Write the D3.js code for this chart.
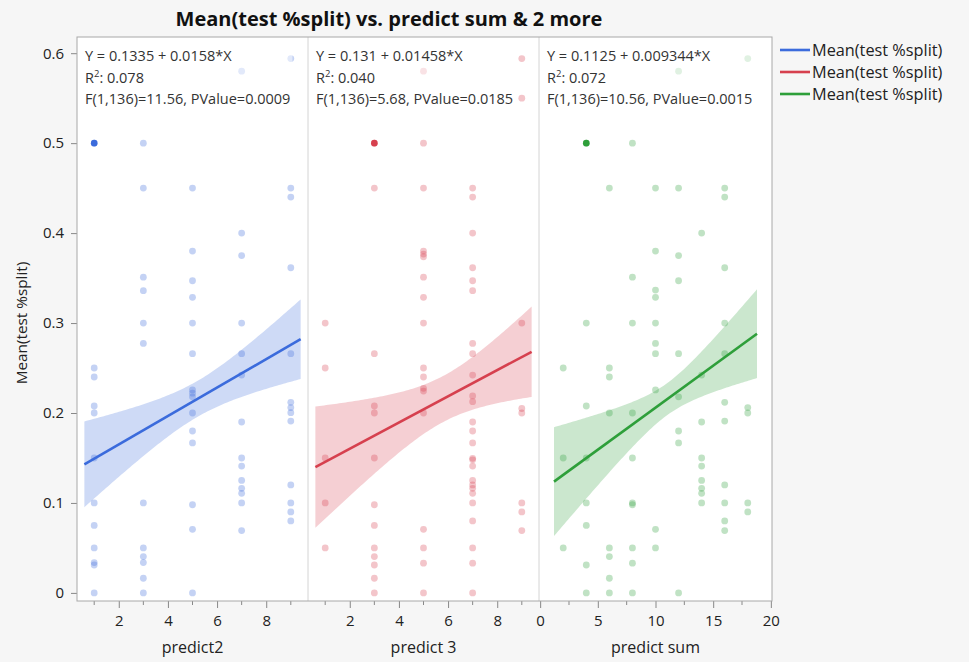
<!DOCTYPE html>
<html><head><meta charset="utf-8">
<script src="https://cdn.jsdelivr.net/npm/d3@7"></script>
<style>
body{margin:0;background:#f6f6f6;}
text{font-family:"Open Sans","Noto Sans",sans-serif;}
</style>
</head><body>
<svg id="chart" width="969" height="662"></svg>
<script>
// ---------------- DATA ----------------
const chartTitle = "Mean(test %split) vs. predict sum & 2 more";
const yTitle = "Mean(test %split)";
const panelNames = ["predict2", "predict 3", "predict sum"];
const legendLabels = ["Mean(test %split)", "Mean(test %split)", "Mean(test %split)"];
const yTicks = [0, 0.1, 0.2, 0.3, 0.4, 0.5, 0.6];
const xMajorTicks = [[2, 4, 6, 8], [2, 4, 6, 8], [0, 5, 10, 15, 20]];
const xMinorTicks = [[1, 3, 5, 7, 9], [1, 3, 5, 7, 9], [2.5, 7.5, 12.5, 17.5]];
const xDomains = [[0.3, 9.7], [0.3, 9.7], [-0.1, 20.1]];

const predict2Points = [
  [1,0.5],[1,0.25],[1,0.24],[1,0.2078],[1,0.2],[1,0.15],[1,0.1],[1,0.075],[1,0.05],[1,0.0337],[1,0.031],[1,0],
  [3,0.5],[3,0.45],[3,0.351],[3,0.336],[3,0.3],[3,0.2774],[3,0.1],[3,0.05],[3,0.0404],[3,0.0337],[3,0.0163],[3,0],
  [5,0.45],[5,0.38],[5,0.347],[5,0.3286],[5,0.3],[5,0.266],[5,0.2256],[5,0.222],[5,0.218],[5,0.2],[5,0.18],[5,0.1667],[5,0.098],[5,0.0707],[5,0],
  [7,0.58],[7,0.4],[7,0.375],[7,0.3],[7,0.266],[7,0.2422],[7,0.19],[7,0.15],[7,0.141],[7,0.125],[7,0.1163],[7,0.1107],[7,0.1],[7,0.0693],
  [9,0.594],[9,0.45],[9,0.44],[9,0.3615],[9,0.266],[9,0.2119],[9,0.206],[9,0.2004],[9,0.191],[9,0.12],[9,0.1],[9,0.09],[9,0.08]
];
const predict3Points = [
  [1,0.3],[1,0.25],[1,0.15],[1,0.1],[1,0.05],
  [3,0.5],[3,0.45],[3,0.266],[3,0.2078],[3,0.2],[3,0.15],[3,0.098],[3,0.075],[3,0.05],[3,0.0404],[3,0.031],[3,0.0163],[3,0],
  [5,0.58],[5,0.5],[5,0.45],[5,0.38],[5,0.3767],[5,0.3737],[5,0.351],[5,0.3286],[5,0.3],[5,0.25],[5,0.24],[5,0.2274],[5,0.2244],[5,0.2],[5,0.0707],[5,0.05],[5,0.033],[5,0],
  [7,0.45],[7,0.44],[7,0.4],[7,0.3615],[7,0.347],[7,0.336],[7,0.2774],[7,0.266],[7,0.2422],[7,0.219],[7,0.2126],[7,0.19],[7,0.18],[7,0.1667],[7,0.1496],[7,0.148],[7,0.141],[7,0.125],[7,0.12],[7,0.1163],[7,0.1107],[7,0.1],[7,0.08],[7,0.05],[7,0.033],[7,0],
  [9,0.594],[9,0.55],[9,0.3],[9,0.205],[9,0.2],[9,0.1],[9,0.09],[9,0.0693]
];
const predictSumPoints = [
  [2,0.25],[2,0.15],[2,0.05],
  [4,0.5],[4,0.3],[4,0.2078],[4,0.15],[4,0.1],[4,0.075],[4,0.031],[4,0],
  [6,0.45],[6,0.25],[6,0.24],[6,0.2],[6,0.05],[6,0.0404],[6,0.0163],[6,0],
  [8,0.5],[8,0.351],[8,0.3],[8,0.2],[8,0.15],[8,0.1],[8,0.098],[8,0.05],[8,0.033],[8,0],
  [10,0.45],[10,0.38],[10,0.3367],[10,0.3286],[10,0.3],[10,0.2774],[10,0.266],[10,0.2256],[10,0.0707],[10,0.05],
  [12,0.58],[12,0.45],[12,0.375],[12,0.347],[12,0.266],[12,0.218],[12,0.18],[12,0.1667],[12,0],
  [14,0.4],[14,0.2422],[14,0.19],[14,0.15],[14,0.141],[14,0.125],[14,0.1163],[14,0.1107],[14,0.1],
  [16,0.45],[16,0.44],[16,0.3615],[16,0.3],[16,0.266],[16,0.2119],[16,0.191],[16,0.12],[16,0.1],[16,0.08],[16,0.0693],
  [18,0.594],[18,0.206],[18,0.2],[18,0.1],[18,0.09]
];
const panelPoints = [predict2Points, predict3Points, predictSumPoints];
const selectedPoints = [[1, 0.5], [3, 0.5], [4, 0.5]];

const intercepts = [0.1335, 0.131, 0.1125];
const slopes = [0.0158, 0.01458, 0.009344];
const fitLines = ["Y = 0.1335 + 0.0158*X", "Y = 0.131 + 0.01458*X", "Y = 0.1125 + 0.009344*X"];
const r2Values = ["0.078", "0.040", "0.072"];
const fTests = ["F(1,136)=11.56, PValue=0.0009", "F(1,136)=5.68, PValue=0.0185", "F(1,136)=10.56, PValue=0.0015"];
// confidence band of the fit: half-width = sqrt(h0^2 + (k*(x - xbar))^2)
const bandXbar = [5.2, 5.8, 11.0];
const bandHalfAtMean = [0.020, 0.0256, 0.0178];
const bandSpread = [0.0094, 0.012, 0.0059];

const lineColors = ["#3b6bdc", "#d6404e", "#2e9f3a"];
const dotColors = ["#3b6bdc", "#d6404e", "#2e9f3a"];

// ---------------- LAYOUT ----------------
const svg = d3.select("#chart");
const frame = {left: 77, right: 772, top: 37, bottom: 601};
const panelEdges = [77, 308, 539, 772];

const y = d3.scaleLinear().domain([-0.009, 0.618]).range([frame.bottom, frame.top]);

// title
svg.append("text").attr("x", 389).attr("y", 26).attr("text-anchor", "middle")
  .attr("font-size", 20).attr("font-weight", "bold").attr("fill", "#111").text(chartTitle);

// plot background
svg.append("rect").attr("x", frame.left).attr("y", frame.top)
  .attr("width", frame.right - frame.left).attr("height", frame.bottom - frame.top)
  .attr("fill", "#fff");

// y axis
const yAxis = d3.axisLeft(y).tickValues(yTicks).tickSize(6).tickPadding(7)
  .tickFormat(d => d === 0 ? "0" : d3.format(".1f")(d));
const yg = svg.append("g").attr("transform", `translate(${frame.left},0)`).call(yAxis);
yg.select(".domain").remove();
yg.selectAll("line").attr("stroke", "#888");
yg.selectAll("text").attr("font-size", 15).attr("fill", "#222").attr("font-family", "'Open Sans',sans-serif");

svg.append("text").attr("transform", "translate(27,323) rotate(-90)")
  .attr("text-anchor", "middle").attr("font-size", 15.3).attr("fill", "#222").text(yTitle);

for (let p = 0; p < 3; p++) {
  const x = d3.scaleLinear().domain(xDomains[p]).range([panelEdges[p], panelEdges[p + 1]]);
  const g = svg.append("g");
  const clipId = "clip" + p;
  svg.append("clipPath").attr("id", clipId).append("rect")
    .attr("x", panelEdges[p]).attr("y", frame.top)
    .attr("width", panelEdges[p + 1] - panelEdges[p]).attr("height", frame.bottom - frame.top);
  const inner = g.append("g").attr("clip-path", `url(#${clipId})`);

  const pts = panelPoints[p];
  const xs = pts.map(d => d[0]);
  const xmin = d3.min(xs), xmax = d3.max(xs), pad = (xmax - xmin) * 0.05;
  const xl = xmin - pad, xr = xmax + pad;
  const grid = d3.range(0, 101).map(i => xl + (xr - xl) * i / 100);
  const half = v => Math.sqrt(bandHalfAtMean[p] ** 2 + (bandSpread[p] * (v - bandXbar[p])) ** 2);
  const fit = v => intercepts[p] + slopes[p] * v;

  // band
  inner.append("path").datum(grid)
    .attr("d", d3.area().x(v => x(v)).y0(v => y(fit(v) - half(v))).y1(v => y(fit(v) + half(v))))
    .attr("fill", lineColors[p]).attr("fill-opacity", 0.25);

  // points
  inner.selectAll("circle.pt").data(pts).join("circle").attr("class", "pt")
    .attr("cx", d => x(d[0])).attr("cy", d => y(d[1])).attr("r", 3.4)
    .attr("fill", dotColors[p]).attr("fill-opacity", 0.3);

  // fit line
  inner.append("line").attr("x1", x(xl)).attr("y1", y(fit(xl))).attr("x2", x(xr)).attr("y2", y(fit(xr)))
    .attr("stroke", lineColors[p]).attr("stroke-width", 2.6);

  // selected point
  inner.append("circle").attr("cx", x(selectedPoints[p][0])).attr("cy", y(selectedPoints[p][1]))
    .attr("r", 3.3).attr("fill", lineColors[p]);

  // annotation
  const tx = panelEdges[p] + 8;
  const fs = 14.5;
  const ann = inner.append("g");
  const bg = ann.append("rect").attr("fill", "#fff").attr("fill-opacity", 0.5);
  const tg = ann.append("g");
  tg.append("text").attr("x", tx).attr("y", 61).attr("font-size", fs).attr("fill", "#333").text(fitLines[p]);
  const r2 = tg.append("text").attr("x", tx).attr("y", 82.5).attr("font-size", fs).attr("fill", "#333");
  r2.append("tspan").text("R");
  r2.append("tspan").attr("font-size", 9.5).attr("dy", -5.5).text("2");
  r2.append("tspan").attr("dy", 5.5).text(": " + r2Values[p]);
  tg.append("text").attr("x", tx).attr("y", 104).attr("font-size", fs).attr("fill", "#333").text(fTests[p]);
  const bb = tg.node().getBBox();
  bg.attr("x", bb.x - 2).attr("y", bb.y - 1).attr("width", bb.width + 4).attr("height", bb.height + 2);

  // x axis
  const xAxis = d3.axisBottom(x).tickValues(xMajorTicks[p]).tickSize(7).tickPadding(7).tickFormat(d3.format("d"));
  const xg = svg.append("g").attr("transform", `translate(0,${frame.bottom})`).call(xAxis);
  xg.select(".domain").remove();
  xg.selectAll("line").attr("stroke", "#888");
  xg.selectAll("text").attr("font-size", 15).attr("fill", "#222").attr("font-family", "'Open Sans',sans-serif");
  svg.append("g").selectAll("line").data(xMinorTicks[p]).join("line")
    .attr("x1", d => x(d)).attr("x2", d => x(d)).attr("y1", frame.bottom).attr("y2", frame.bottom + 4)
    .attr("stroke", "#888");

  svg.append("text").attr("x", (panelEdges[p] + panelEdges[p + 1]) / 2).attr("y", 653)
    .attr("text-anchor", "middle").attr("font-size", 16).attr("fill", "#222").text(panelNames[p]);
}

// separators & frame
svg.selectAll("line.sep").data([panelEdges[1], panelEdges[2]]).join("line").attr("class", "sep")
  .attr("x1", d => d).attr("x2", d => d).attr("y1", frame.top).attr("y2", frame.bottom)
  .attr("stroke", "#d4d4d4");
svg.append("rect").attr("x", frame.left).attr("y", frame.top)
  .attr("width", frame.right - frame.left).attr("height", frame.bottom - frame.top)
  .attr("fill", "none").attr("stroke", "#a8a8a8");

// legend
const lg = svg.append("g");
legendLabels.forEach((lab, i) => {
  const ly = 50 + i * 22;
  lg.append("line").attr("x1", 780).attr("x2", 810).attr("y1", ly).attr("y2", ly)
    .attr("stroke", lineColors[i]).attr("stroke-width", 2.6);
  lg.append("text").attr("x", 812).attr("y", ly + 5.5).attr("font-size", 16.3).attr("fill", "#222").text(lab);
});
</script>
</body></html>
